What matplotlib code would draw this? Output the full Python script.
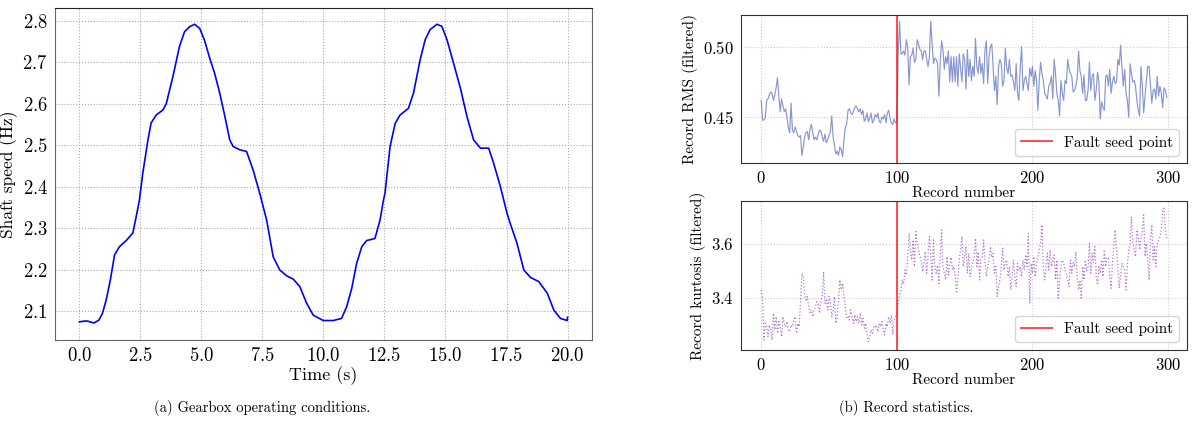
import matplotlib
matplotlib.use("Agg")
import matplotlib.pyplot as plt
import numpy as np

# ##### Data ##### #

# (a) shaft speed
time_s = [0.0, 0.3, 0.6, 0.8, 0.95, 1.1, 1.27, 1.44, 1.64, 1.92, 2.19, 2.33,
          2.46, 2.6, 2.81, 2.94, 3.15, 3.42, 3.56, 3.7, 3.83, 4.1, 4.31, 4.52,
          4.72, 4.93, 5.13, 5.34, 5.54, 5.75, 5.95, 6.16, 6.3, 6.57, 6.85, 7.12,
          7.39, 7.67, 7.94, 8.21, 8.49, 8.76, 9.03, 9.31, 9.58, 9.99, 10.4,
          10.74, 10.95, 11.16, 11.36, 11.57, 11.77, 12.11, 12.32, 12.46, 12.52,
          12.73, 12.94, 13.14, 13.48, 13.69, 13.96, 14.17, 14.37, 14.65, 14.85,
          15.06, 15.33, 15.61, 15.88, 16.15, 16.43, 16.77, 16.97, 17.25, 17.52,
          17.66, 17.93, 18.21, 18.48, 18.82, 19.17, 19.44, 19.71, 19.99, 20.0]
shaft_speed = [2.074, 2.076, 2.071, 2.078, 2.095, 2.127, 2.175, 2.235, 2.255,
               2.27, 2.288, 2.328, 2.368, 2.433, 2.513, 2.554, 2.573, 2.585,
               2.60, 2.634, 2.665, 2.738, 2.774, 2.786, 2.792, 2.782, 2.753,
               2.71, 2.674, 2.626, 2.573, 2.513, 2.497, 2.489, 2.485, 2.44,
               2.384, 2.32, 2.231, 2.199, 2.185, 2.177, 2.159, 2.119, 2.09,
               2.077, 2.077, 2.082, 2.110, 2.155, 2.215, 2.255, 2.27, 2.275,
               2.32, 2.368, 2.384, 2.497, 2.553, 2.573, 2.589, 2.626, 2.706,
               2.755, 2.779, 2.792, 2.787, 2.755, 2.698, 2.638, 2.569, 2.513,
               2.493, 2.493, 2.457, 2.4, 2.336, 2.31, 2.263, 2.199, 2.181,
               2.171, 2.143, 2.102, 2.082, 2.077, 2.085]
speed_ticks = [2.1, 2.2, 2.3, 2.4, 2.5, 2.6, 2.7, 2.8]

# (b) record statistics, one value per record (0..299)
record_rms = [
    0.462, 0.448, 0.448, 0.450, 0.462, 0.463, 0.466, 0.468, 0.467, 0.462,
    0.466, 0.471, 0.478, 0.465, 0.454, 0.463, 0.458, 0.454, 0.456, 0.450,
    0.443, 0.439, 0.460, 0.441, 0.439, 0.443, 0.440, 0.437, 0.436, 0.437,
    0.423, 0.429, 0.436, 0.439, 0.440, 0.434, 0.442, 0.445, 0.439, 0.434,
    0.436, 0.434, 0.438, 0.441, 0.440, 0.436, 0.433, 0.438, 0.432, 0.434,
    0.437, 0.440, 0.451, 0.436, 0.430, 0.424, 0.426, 0.423, 0.429, 0.427,
    0.422, 0.434, 0.443, 0.445, 0.455, 0.456, 0.453, 0.452, 0.454, 0.457,
    0.458, 0.456, 0.454, 0.456, 0.452, 0.455, 0.447, 0.449, 0.453, 0.447,
    0.449, 0.453, 0.446, 0.448, 0.452, 0.450, 0.453, 0.447, 0.446, 0.450,
    0.449, 0.452, 0.446, 0.453, 0.455, 0.449, 0.446, 0.445, 0.449, 0.446,
    0.447, 0.495, 0.518, 0.495, 0.495, 0.497, 0.494, 0.505, 0.500, 0.473,
    0.493, 0.494, 0.499, 0.489, 0.491, 0.505, 0.502, 0.498, 0.497, 0.491,
    0.497, 0.497, 0.491, 0.486, 0.493, 0.518, 0.502, 0.488, 0.492, 0.491,
    0.488, 0.465, 0.489, 0.504, 0.498, 0.484, 0.493, 0.488, 0.497, 0.475,
    0.493, 0.475, 0.493, 0.475, 0.493, 0.472, 0.495, 0.485, 0.475, 0.495,
    0.491, 0.470, 0.498, 0.479, 0.491, 0.476, 0.486, 0.479, 0.506, 0.486,
    0.481, 0.493, 0.481, 0.488, 0.474, 0.498, 0.504, 0.474, 0.493, 0.500,
    0.502, 0.486, 0.469, 0.479, 0.459, 0.486, 0.491, 0.488, 0.472, 0.476,
    0.499, 0.485, 0.481, 0.491, 0.479, 0.480, 0.475, 0.469, 0.488, 0.467,
    0.462, 0.486, 0.500, 0.469, 0.476, 0.479, 0.474, 0.469, 0.485, 0.479,
    0.486, 0.472, 0.483, 0.476, 0.455, 0.476, 0.489, 0.481, 0.476, 0.467,
    0.465, 0.463, 0.472, 0.474, 0.479, 0.463, 0.491, 0.481, 0.467, 0.462,
    0.451, 0.476, 0.467, 0.462, 0.476, 0.474, 0.491, 0.484, 0.481, 0.479,
    0.468, 0.469, 0.472, 0.478, 0.497, 0.483, 0.479, 0.467, 0.480, 0.462,
    0.462, 0.469, 0.489, 0.469, 0.479, 0.481, 0.462, 0.469, 0.482, 0.475,
    0.449, 0.461, 0.457, 0.455, 0.479, 0.480, 0.472, 0.484, 0.467, 0.475,
    0.479, 0.474, 0.475, 0.491, 0.487, 0.501, 0.485, 0.472, 0.484, 0.467,
    0.462, 0.450, 0.488, 0.481, 0.475, 0.476, 0.472, 0.462, 0.455, 0.451,
    0.486, 0.472, 0.453, 0.465, 0.476, 0.486, 0.486, 0.473, 0.460, 0.469,
    0.470, 0.463, 0.479, 0.465, 0.472, 0.467, 0.457, 0.471, 0.469, 0.464,
]
record_kurtosis = [
    3.429, 3.391, 3.242, 3.304, 3.292, 3.255, 3.298, 3.280, 3.242, 3.342,
    3.280, 3.329, 3.267, 3.311, 3.292, 3.255, 3.329, 3.304, 3.292, 3.311,
    3.280, 3.273, 3.298, 3.292, 3.317, 3.329, 3.267, 3.304, 3.292, 3.391,
    3.491, 3.478, 3.416, 3.391, 3.404, 3.367, 3.342, 3.354, 3.329, 3.354,
    3.367, 3.385, 3.373, 3.342, 3.391, 3.404, 3.497, 3.379, 3.391, 3.354,
    3.404, 3.379, 3.329, 3.354, 3.404, 3.304, 3.329, 3.391, 3.466, 3.429,
    3.453, 3.404, 3.367, 3.323, 3.329, 3.317, 3.354, 3.329, 3.304, 3.335,
    3.311, 3.329, 3.304, 3.342, 3.298, 3.323, 3.286, 3.304, 3.267, 3.236,
    3.255, 3.280, 3.267, 3.292, 3.286, 3.298, 3.273, 3.304, 3.292, 3.311,
    3.280, 3.261, 3.304, 3.292, 3.329, 3.304, 3.335, 3.261, 3.317, 3.329,
    3.335,
    3.379, 3.404, 3.429, 3.466, 3.45, 3.503, 3.484, 3.547, 3.640, 3.58,
    3.540, 3.615, 3.516, 3.646, 3.60, 3.578, 3.553, 3.540, 3.497, 3.53,
    3.571, 3.491, 3.553, 3.627, 3.56, 3.466, 3.615, 3.516, 3.491, 3.52,
    3.453, 3.553, 3.652, 3.516, 3.49, 3.466, 3.553, 3.484, 3.522, 3.55,
    3.503, 3.516, 3.484, 3.416, 3.47, 3.540, 3.578, 3.627, 3.516, 3.55,
    3.590, 3.491, 3.565, 3.478, 3.51, 3.528, 3.553, 3.621, 3.516, 3.57,
    3.466, 3.540, 3.553, 3.615, 3.53, 3.478, 3.516, 3.540, 3.590, 3.55,
    3.565, 3.491, 3.516, 3.404, 3.44, 3.466, 3.516, 3.584, 3.503, 3.53,
    3.540, 3.478, 3.516, 3.429, 3.48, 3.540, 3.478, 3.441, 3.528, 3.50,
    3.516, 3.478, 3.540, 3.503, 3.56, 3.516, 3.640, 3.379, 3.528, 3.49,
    3.553, 3.478, 3.528, 3.553, 3.58, 3.602, 3.671, 3.516, 3.466, 3.51,
    3.565, 3.503, 3.578, 3.516, 3.54, 3.559, 3.466, 3.540, 3.398, 3.47,
    3.516, 3.540, 3.528, 3.503, 3.49, 3.466, 3.441, 3.540, 3.491, 3.53,
    3.516, 3.571, 3.478, 3.429, 3.46, 3.398, 3.516, 3.466, 3.540, 3.50,
    3.516, 3.602, 3.491, 3.565, 3.53, 3.590, 3.478, 3.447, 3.516, 3.49,
    3.540, 3.478, 3.578, 3.516, 3.55, 3.547, 3.478, 3.435, 3.528, 3.59,
    3.652, 3.578, 3.516, 3.435, 3.48, 3.528, 3.516, 3.503, 3.429, 3.52,
    3.578, 3.602, 3.702, 3.602, 3.58, 3.553, 3.652, 3.627, 3.578, 3.62,
    3.652, 3.708, 3.553, 3.602, 3.54, 3.466, 3.615, 3.671, 3.540, 3.590,
    3.516, 3.602, 3.615, 3.627, 3.652, 3.727, 3.733, 3.652, 3.621,
]
records = np.arange(len(record_rms))
fault_record = 100

# ##### Plotting ##### #

plt.rc("font", family="serif", size=11)
plt.rc("font", serif=["cmr10", "DejaVu Serif"])
plt.rc("mathtext", fontset="cm")
plt.rcParams["axes.formatter.use_mathtext"] = True
plt.rcParams["axes.unicode_minus"] = False

fig = plt.figure(figsize=(11.92, 4.25), dpi=100)

# (a)
ax = fig.add_axes([0.0461, 0.2, 0.4505, 0.781])
ax.plot(time_s, shaft_speed, color="blue", lw=1.2)
ax.set_xlabel("Time (s)", labelpad=1, fontsize=13)
ax.set_ylabel("Shaft speed (Hz)", labelpad=3, fontsize=12.5)
ax.set_ylim(2.03, 2.831)
ax.set_yticks(speed_ticks)
ax.grid(True, color="#aaaaaa", linestyle=":", lw=0.8)
ax.tick_params(length=0, pad=5, labelsize=13.5)
for side in ["left", "bottom", "right"]:
    ax.spines[side].set_color("#666666")
ax.spines["top"].set_color("#222222")

# (b) top
ax1 = fig.add_axes([0.6216, 0.6158, 0.3742, 0.3496])
ax1.plot(records, record_rms, color="#6274c0", alpha=0.75, lw=0.85)
ax1.axvline(fault_record, color="red", alpha=0.7, lw=1.4, label="Fault seed point")
ax1.set_ylim(0.4174, 0.5227)
ax1.set_yticks([0.45, 0.50])
ax1.set_xticks([0, 100, 200, 300])
ax1.set_xlabel("Record number", labelpad=0)
ax1.set_ylabel("Record RMS (filtered)")
ax1.legend(loc="lower right")

# (b) bottom
ax2 = fig.add_axes([0.6216, 0.1765, 0.3742, 0.3506])
ax2.plot(records, record_kurtosis, color="#9040c0", alpha=0.7, lw=0.9, linestyle=":")
ax2.axvline(fault_record, color="red", alpha=0.7, lw=1.4, label="Fault seed point")
ax2.set_ylim(3.205, 3.76)
ax2.set_yticks([3.4, 3.6])
ax2.set_xticks([0, 100, 200, 300])
ax2.set_xlabel("Record number", labelpad=0)
ax2.set_ylabel("Record kurtosis (filtered)")
ax2.legend(loc="lower right")

for a in [ax1, ax2]:
    a.grid(True, color="#cccccc", linestyle=":", lw=0.8)
    a.tick_params(length=0, pad=5, labelsize=12)
    for side in a.spines:
        a.spines[side].set_color("#333333")

fig.text(262 / 1192, 1 - 408 / 425, "(a) Gearbox operating conditions.",
         ha="center", va="center", fontsize=10.5)
fig.text(906 / 1192, 1 - 408 / 425, "(b) Record statistics.",
         ha="center", va="center", fontsize=10.5)

fig.savefig("out.png", dpi=100)
